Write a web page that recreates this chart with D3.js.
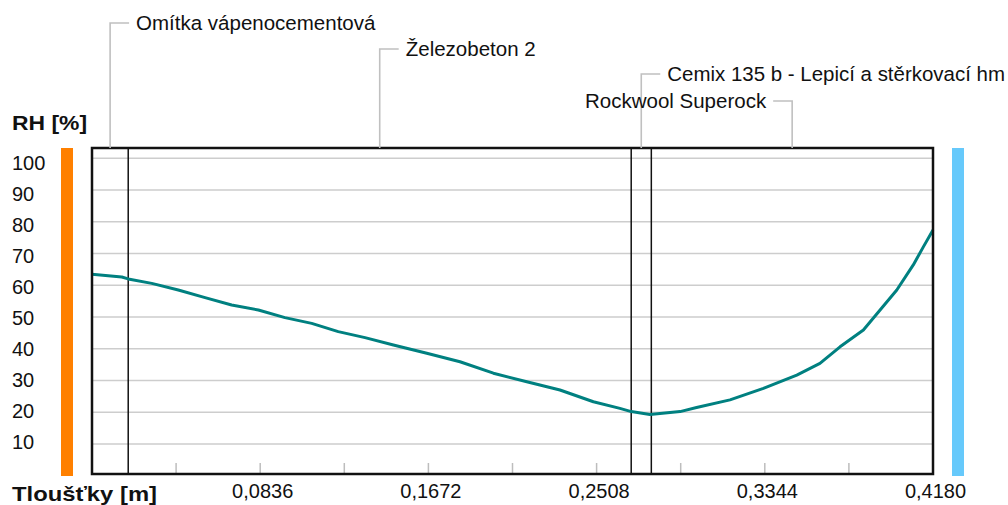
<!DOCTYPE html>
<html><head><meta charset="utf-8">
<script src="https://cdn.jsdelivr.net/npm/d3@7"></script>
<style>
html,body{margin:0;padding:0;background:#fff;overflow:hidden;}
svg{display:block;font-family:"Liberation Sans",Arial,sans-serif;}
</style></head>
<body>
<script>
// ---- data ----
const layerNames = ["Omítka vápenocementová", "Železobeton 2", "Cemix 135 b - Lepicí a stěrkovací hm", "Rockwool Superock"];
const layerThickness = [0.018, 0.25, 0.01, 0.14];
const positions = [0, 0.0148, 0.018, 0.0297, 0.0429, 0.0562, 0.0694, 0.0827, 0.0959, 0.1092, 0.1224, 0.1357,
  0.1498, 0.1664, 0.1829, 0.1995, 0.2161, 0.2326, 0.2492, 0.2624, 0.268, 0.2773, 0.2923, 0.3005, 0.3171,
  0.3337, 0.3503, 0.3618, 0.3718, 0.3834, 0.3917, 0.4000, 0.4082, 0.4132, 0.418];
const rhValues = [63.5, 62.6, 62.0, 60.6, 58.5, 56.1, 53.8, 52.2, 49.8, 48.0, 45.4, 43.5,
  41.2, 38.6, 35.9, 32.3, 29.6, 27.0, 23.3, 21.2, 20.2, 19.3, 20.2, 21.5, 23.9,
  27.5, 31.7, 35.4, 40.6, 45.9, 52.2, 58.5, 66.4, 72.1, 77.4];
const yTicks = [10, 20, 30, 40, 50, 60, 70, 80, 90, 100];
const xLabelTicks = [0.0836, 0.1672, 0.2508, 0.3344, 0.4180];
const xMinorTicks = [0.0418, 0.0836, 0.1254, 0.1672, 0.2090, 0.2508, 0.2926, 0.3344, 0.3762];
const yTitle = "RH [%]";
const xTitle = "Tloušťky [m]";

// ---- layout ----
const W = 1008, H = 505;
const L = 92, R = 933, T = 148, B = 474;
const svg = d3.select("body").append("svg").attr("width", W).attr("height", H);

const x = d3.scaleLinear().domain([0, 0.418]).range([L, R]);
const y = d3.scaleLinear().domain([0, 100]).range([475.7, 158.3]);
const yLab = d3.scaleLinear().domain([10, 100]).range([441.5, 163]);

// colored side bars
svg.append("rect").attr("x", 61).attr("y", T).attr("width", 12).attr("height", 476 - T).attr("fill", "#ff8000");
svg.append("rect").attr("x", 952).attr("y", T).attr("width", 12).attr("height", 476 - T).attr("fill", "#66c9fb");

// gridlines
svg.append("g").selectAll("line").data(yTicks).join("line")
  .attr("x1", L).attr("x2", R).attr("y1", d => y(d)).attr("y2", d => y(d))
  .attr("stroke", "#cdcdcd").attr("stroke-width", 1.6);

// minor ticks at bottom
svg.append("g").selectAll("line").data(xMinorTicks).join("line")
  .attr("x1", d => x(d)).attr("x2", d => x(d)).attr("y1", B - 11).attr("y2", B)
  .attr("stroke", "#bdbdbd").attr("stroke-width", 1.5);

// layer boundaries
const bounds = [];
let acc = 0;
layerThickness.forEach(t => { bounds.push([acc, acc + t]); acc += t; });
svg.append("g").selectAll("line").data(bounds.slice(0, -1)).join("line")
  .attr("x1", d => x(d[1])).attr("x2", d => x(d[1])).attr("y1", T).attr("y2", B)
  .attr("stroke", "#111").attr("stroke-width", 1.5);

// curve
const pts = positions.map((p, i) => [p, rhValues[i]]);
svg.append("path").datum(pts)
  .attr("d", d3.line().x(d => x(d[0])).y(d => y(d[1])))
  .attr("fill", "none").attr("stroke", "#008080").attr("stroke-width", 3).attr("stroke-linejoin", "round");

// frame
svg.append("rect").attr("x", L).attr("y", T).attr("width", R - L).attr("height", B - T)
  .attr("fill", "none").attr("stroke", "#111").attr("stroke-width", 2.5);

// leader lines + labels
const leaderY = [23, 49, 74, 101];
const leaderSide = [1, 1, 1, -1];
bounds.forEach((b, i) => {
  const mx = x((b[0] + b[1]) / 2);
  const ly = leaderY[i];
  const s = leaderSide[i];
  svg.append("path")
    .attr("d", `M${mx},${T} V${ly} H${mx + s * 19}`)
    .attr("fill", "none").attr("stroke", "#c0c0c0").attr("stroke-width", 1.6);
  const t = svg.append("text")
    .attr("x", mx + s * 26).attr("y", ly).attr("dy", "0.35em")
    .attr("text-anchor", s > 0 ? "start" : "end")
    .attr("font-size", 20.5).attr("fill", "#111")
    .text(layerNames[i]);
  if (i === 2) t.attr("textLength", W - 3 - (mx + 26)).attr("lengthAdjust", "spacingAndGlyphs");
});

// y tick labels
svg.append("g").selectAll("text").data(yTicks).join("text")
  .attr("x", 12).attr("y", d => yLab(d)).attr("dy", "0.36em")
  .attr("font-size", 20).attr("fill", "#111")
  .text(d => d);

// x tick labels via axis
const xAxis = d3.axisBottom(x).tickValues(xLabelTicks).tickSize(0)
  .tickFormat(d => d3.format(".4f")(d).replace(".", ","));
const gx = svg.append("g").attr("transform", `translate(2,${484})`).call(xAxis);
gx.select(".domain").remove();
gx.selectAll("text").attr("font-size", 20).attr("fill", "#111")
  .attr("font-family", "'Liberation Sans',Arial,sans-serif").attr("dy", "0.71em").attr("y", 0);

// titles
svg.append("text").attr("x", 12).attr("y", 122).attr("dy", "0.36em")
  .attr("font-size", 21).attr("font-weight", "bold").attr("fill", "#111")
  .attr("textLength", 75).attr("lengthAdjust", "spacingAndGlyphs").text(yTitle);
svg.append("text").attr("x", 12).attr("y", 493).attr("dy", "0.36em")
  .attr("font-size", 21).attr("font-weight", "bold").attr("fill", "#111")
  .attr("textLength", 145).attr("lengthAdjust", "spacingAndGlyphs").text(xTitle);
</script>
</body></html>
